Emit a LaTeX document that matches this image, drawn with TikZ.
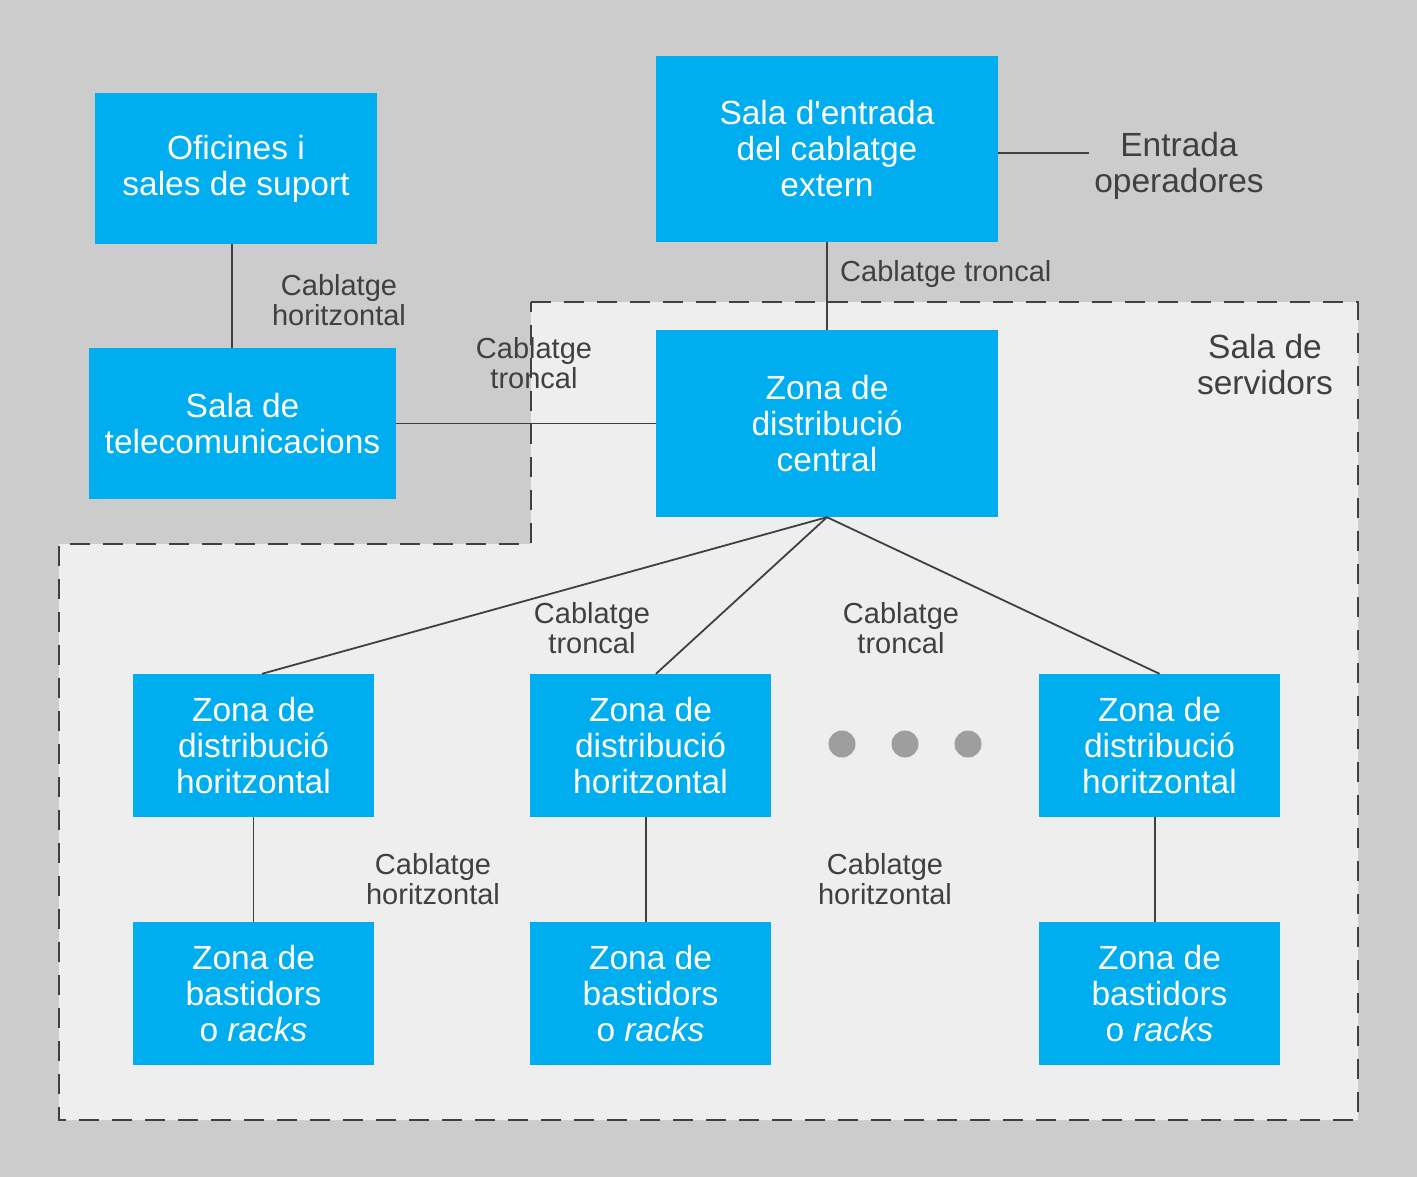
\documentclass[tikz,border=0pt]{standalone}
\usepackage{fontspec}
\setmainfont{Liberation Sans}[Ligatures=TeXOff]
\definecolor{bgc}{HTML}{CCCCCC}
\definecolor{roomc}{HTML}{EEEEEE}
\definecolor{boxc}{HTML}{00AEEF}
\definecolor{linec}{HTML}{404040}
\definecolor{dotc}{HTML}{9E9E9E}
\begin{document}
\begin{tikzpicture}[x=1pt,y=-1pt,
  zone/.style={fill=boxc,draw=none,inner sep=0pt,align=center,text=white,
    font=\fontsize{33.5}{36}\selectfont},
  lbl/.style={inner sep=0pt,align=center,text=linec,font=\fontsize{29}{29.5}\selectfont},
  big/.style={inner sep=0pt,align=center,text=linec,font=\fontsize{33.5}{36}\selectfont},
  wire/.style={draw=linec,line width=1.8pt},
  border/.style={draw=linec,line width=2pt,dash pattern=on 20pt off 13pt}]
\useasboundingbox (0,0) rectangle (1417,1177);
\fill[bgc] (0,0) rectangle (1417,1177);
\fill[roomc] (531,302) -- (1358,302) -- (1358,1120) -- (59,1120) -- (59,544) -- (531,544) -- cycle;

% boxes
\node[zone,minimum width=282,minimum height=151] (ofi) at (236,168.5) {Oficines i\\sales de suport};
\node[zone,minimum width=307,minimum height=151] (tel) at (242.5,423.5) {Sala de\\telecomunicacions};
\node[zone,minimum width=342,minimum height=186] (ent) at (827,149) {Sala d'entrada\\del cablatge\\extern};
\node[zone,minimum width=342,minimum height=187] (mdz) at (827,423.5) {Zona de\\distribució\\central};
\node[zone,minimum width=241,minimum height=143] (h1) at (253.5,745.5) {Zona de\\distribució\\horitzontal};
\node[zone,minimum width=241,minimum height=143] (h2) at (650.5,745.5) {Zona de\\distribució\\horitzontal};
\node[zone,minimum width=241,minimum height=143] (h3) at (1159.5,745.5) {Zona de\\distribució\\horitzontal};
\node[zone,minimum width=241,minimum height=143] (r1) at (253.5,993.5) {Zona de\\bastidors\\o \textit{racks}};
\node[zone,minimum width=241,minimum height=143] (r2) at (650.5,993.5) {Zona de\\bastidors\\o \textit{racks}};
\node[zone,minimum width=241,minimum height=143] (r3) at (1159.5,993.5) {Zona de\\bastidors\\o \textit{racks}};

% connectors
\coordinate (opend) at (1089,153);
\draw[wire] ([xshift=-4pt]ofi.south) -- ([xshift=-4pt]ofi.south |- tel.north);
\draw[wire] (tel.east) -- (mdz.west);
\draw[wire] (ent.south) -- (mdz.north);
\draw[wire] ([yshift=-4pt]ent.east) -- (opend);
\draw[wire] (mdz.south) -- ([xshift=8.5pt]h1.north);
\draw[wire] (mdz.south) -- ([xshift=5.5pt]h2.north);
\draw[wire] (mdz.south) -- (h3.north);
\draw[wire] (h1.south) -- (r1.north);
\draw[wire] ([xshift=-4.5pt]h2.south) -- ([xshift=-4.5pt]r2.north);
\draw[wire] ([xshift=-4.5pt]h3.south) -- ([xshift=-4.5pt]r3.north);

% dots
\fill[dotc] (842,744) circle (13.5);
\fill[dotc] (905,744) circle (13.5);
\fill[dotc] (968,744) circle (13.5);

% labels
\node[lbl] (l1) at (339,300) {Cablatge\\horitzontal};
\node[lbl,anchor=west] (l2) at (840,274) {Cablatge troncal};
\node[lbl] (l3) at (534,363) {Cablatge\\troncal};
\node[lbl] (l4) at (592,628) {Cablatge\\troncal};
\node[lbl] (l5) at (901,628) {Cablatge\\troncal};
\node[lbl] (l6) at (433,879) {Cablatge\\horitzontal};
\node[lbl] (l7) at (885,879) {Cablatge\\horitzontal};
\node[big] (op) at (1179,166) {Entrada\\operadores};
\node[big] (srv) at (1265,365) {Sala de\\servidors};

\draw[border] (531,302) -- (1358,302) -- (1358,1120) -- (59,1120) -- (59,544) -- (531,544) -- cycle;
\end{tikzpicture}
\end{document}
